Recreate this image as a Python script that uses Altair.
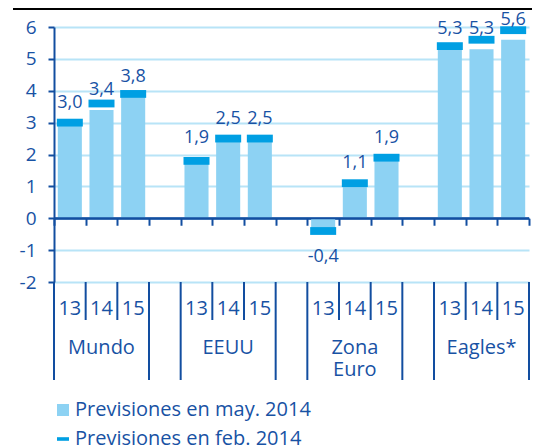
import altair as alt
import pandas as pd

# ---- data ----
groups = ["Mundo", "EEUU", "Zona\nEuro", "Eagles*"]
years = ["13", "14", "15"]
may_2014 = [3.0, 3.4, 3.8, 1.9, 2.5, 2.5, -0.4, 1.1, 1.9, 5.3, 5.3, 5.6]
feb_2014 = [3.0, 3.6, 3.9, 1.8, 2.5, 2.5, -0.4, 1.1, 1.9, 5.4, 5.6, 5.9]
series = ["Previsiones en may. 2014", "Previsiones en feb. 2014"]
y_ticks = [-2, -1, 0, 1, 2, 3, 4, 5, 6]

LIGHT = "#8dd2f3"
MID = "#009fe3"
DARK = "#1852a4"
AXIS = "#124ea0"
GRID = "#b8e4f7"
FONT = "Open Sans"

rows = []
for gi, g in enumerate(groups):
    for yi, yr in enumerate(years):
        k = gi * 3 + yi
        rows.append({"group": g, "year": yr, "slot": gi * 4 + yi,
                     "may": may_2014[k], "feb": feb_2014[k]})
df = pd.DataFrame(rows)
df["x0"] = df["slot"] + 0.12
df["x1"] = df["slot"] + 0.88
df["xc"] = df["slot"] + 0.5
df["bot"] = df[["may", "feb"]].min(axis=1)
df["lab"] = df["may"].map(lambda v: f"{v:.1f}".replace(".", ","))
df["s_may"] = series[0]
df["s_feb"] = series[1]

gdf = pd.DataFrame({"group": groups, "xc": [i * 4 + 1.5 for i in range(len(groups))]})
lines = pd.DataFrame({"pos": list(range(16))})
lines["long"] = lines["pos"].map(lambda p: p % 4 in (0, 3))

W, H = 475, 255
xs = alt.Scale(domain=[0, 15], nice=False, zero=False)
ys = alt.Scale(domain=[-2, 6], nice=False, zero=False)
col = alt.Scale(domain=series, range=[LIGHT, MID])
shp = alt.Scale(domain=series, range=["square", "M-1,-0.3L1,-0.3L1,0.3L-1,0.3Z"])

x_axis = alt.Axis(values=list(range(16)), labels=False, grid=False, title=None,
                  domainColor=AXIS, domainWidth=2, tickColor=AXIS, tickWidth=2,
                  tickSize=7, offset=-63.75)
y_axis = alt.Axis(values=y_ticks, title=None, grid=True, gridColor=GRID, gridWidth=2,
                  domainColor=AXIS, domainWidth=2, tickColor=AXIS, tickWidth=2,
                  tickSize=6, labelPadding=12, labelFontSize=19, labelColor=DARK,
                  labelFont=FONT, labelOverlap=False, labelExpr="'' + datum.value")


def X(f):
    return alt.X(f, scale=xs, axis=x_axis)


def Y(f):
    return alt.Y(f, scale=ys, axis=y_axis)


base = alt.Chart(df)

bars = base.mark_bar().encode(
    x=X("x0:Q"),
    x2="x1:Q",
    y=Y("may:Q"),
    y2=alt.datum(0),
    color=alt.Color("s_may:N", scale=col,
                    legend=alt.Legend(title=None, orient="none", legendX=-1, legendY=373,
                                      labelFontSize=20, labelColor=DARK, labelFont=FONT,
                                      labelLimit=400, symbolSize=144, labelOffset=2,
                                      rowPadding=9, symbolStrokeWidth=0,
                                      symbolOpacity=1)),
)

marks = base.mark_point(filled=True, opacity=1, size=676).encode(
    x=X("xc:Q"),
    y=Y("feb:Q"),
    color=alt.Color("s_feb:N", scale=col),
    shape=alt.Shape("s_feb:N", scale=shp),
)

zero_line = base.transform_filter("datum.slot == 0").mark_rule(
    color=AXIS, strokeWidth=2).encode(
    y=Y("z:Q"), x=alt.value(0), x2=alt.value(W)).transform_calculate(z="0")

pos_labels = base.transform_filter("datum.may >= 0").mark_text(
    dy=-15, baseline="alphabetic", fontSize=18, color=DARK, font=FONT).encode(
    x=X("xc:Q"), y=Y("may:Q"), text="lab:N")
neg_labels = base.transform_filter("datum.may < 0").mark_text(
    dy=31, baseline="alphabetic", fontSize=18, color=DARK, font=FONT).encode(
    x=X("xc:Q"), y=Y("bot:Q"), text="lab:N")

long_lines = alt.Chart(lines).transform_filter("datum.long").mark_rule(
    color=AXIS, strokeWidth=2).encode(x=X("pos:Q"), y=alt.value(H), y2=alt.value(H + 98))
short_lines = alt.Chart(lines).transform_filter("!datum.long").mark_rule(
    color=AXIS, strokeWidth=2).encode(x=X("pos:Q"), y=alt.value(H), y2=alt.value(H + 38))

year_text = base.mark_text(fontSize=20, color=DARK, font=FONT, baseline="middle").encode(
    x=X("xc:Q"), y=alt.value(H + 27), text="year:N")
group_text = alt.Chart(gdf).mark_text(fontSize=20, color=DARK, font=FONT, baseline="middle",
                                      lineBreak="\n", lineHeight=22).encode(
    x=X("xc:Q"), y=alt.value(H + 66), text="group:N")

top_rule = alt.Chart(gdf).transform_filter("datum.xc == 1.5").mark_rule(
    color="#000000", strokeWidth=2).encode(
    x=alt.value(-41), x2=alt.value(W + 10), y=alt.value(-18))

chart = alt.layer(
    bars, marks, zero_line, pos_labels, neg_labels,
    long_lines, short_lines, year_text, group_text, top_rule
).properties(
    width=W, height=H,
    autosize=alt.AutoSizeParams(type="none"),
    padding={"left": 46, "top": 19, "right": 3, "bottom": 166},
).configure_view(stroke=None)

chart.save("out.html", embed_options={"renderer": "svg", "actions": False})
